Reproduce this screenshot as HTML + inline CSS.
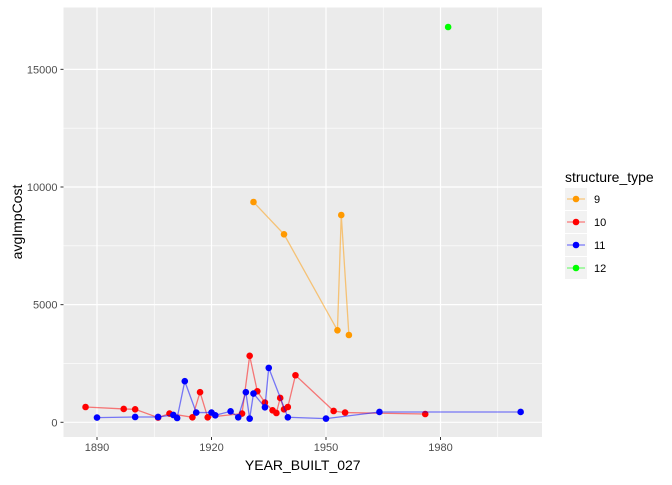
<!DOCTYPE html>
<html><head><meta charset="utf-8"><style>
body{margin:0;background:#fff;}
svg text{font-family:"Liberation Sans",Arial,sans-serif;}
</style></head><body>
<svg id="c" width="672" height="480" xmlns="http://www.w3.org/2000/svg"></svg>
<script>
const xTicks=[1890,1920,1950,1980];
const xMinor=[1875,1905,1935,1965,1995];
const yTicks=[0,5000,10000,15000];
const yMinor=[2500,7500,12500];
const s9x=[1931,1939,1953,1954,1956];
const s9y=[9362,7990,3910,8810,3710];
const s10x=[1887,1897,1900,1906,1909,1915,1917,1919,1928,1930,1932,1934,1936,1937,1938,1939,1940,1942,1952,1955,1976];
const s10y=[650,567,553,200,370,213,1278,213,370,2825,1320,840,511,396,1035,553,650,2000,481,413,353];
const s11x=[1890,1900,1906,1910,1911,1913,1916,1920,1921,1925,1927,1929,1930,1931,1934,1935,1940,1950,1964,2001];
const s11y=[200,226,226,311,183,1746,413,413,298,468,213,1278,157,1222,639,2313,213,157,439,439];
const s12x=[1982];
const s12y=[16800];
const seriesNames=["9","10","11","12"];
const colors=["#FF9900","#FF0000","#0000FF","#00FF00"];

const L=63.5,R=542,T=7.5,B=437;
const X=v=>97+(v-1890)*(326-97)/60;
const Y=v=>422.3-v*0.02353;
const svg=document.getElementById('c');
const NS="http://www.w3.org/2000/svg";
function mk(tag,at,parent){const e=document.createElementNS(NS,tag);for(const k in at)e.setAttribute(k,at[k]);(parent||svg).appendChild(e);return e;}

let bg=mk('rect',{x:L,y:T,width:R-L,height:B-T,fill:'#EBEBEB'});


yMinor.forEach(v=>{let l=mk('line',{x1:L,x2:R,y1:Y(v),y2:Y(v),stroke:'#fff','stroke-width':0.6});});
xMinor.forEach(v=>{if(X(v)>L&&X(v)<R){let l=mk('line',{x1:X(v),x2:X(v),y1:T,y2:B,stroke:'#fff','stroke-width':0.6});}});
yTicks.forEach(v=>{
 let l=mk('line',{x1:L,x2:R,y1:Y(v),y2:Y(v),stroke:'#fff','stroke-width':1.2});
 
 
 let tk=mk('line',{x1:L-3,x2:L,y1:Y(v),y2:Y(v),stroke:'#333','stroke-width':1});
 
 
 let t=mk('text',{x:L-6,y:Y(v)+4,'text-anchor':'end','font-size':11,fill:'#4d4d4d'});t.textContent=v;
 
 
});
xTicks.forEach(v=>{
 let l=mk('line',{x1:X(v),x2:X(v),y1:T,y2:B,stroke:'#fff','stroke-width':1.2});
 
 
 let tk=mk('line',{x1:X(v),x2:X(v),y1:B,y2:B+3,stroke:'#333','stroke-width':1});
 
 
 let t=mk('text',{x:X(v),y:B+14,'text-anchor':'middle','font-size':11,fill:'#4d4d4d'});t.textContent=v;
 
 
});
const SX=[s9x,s10x,s11x,s12x],SY=[s9y,s10y,s11y,s12y];
SX.forEach((xs,i)=>{
 const g=mk('g',{});
 
 
 if(xs.length>1){
  let p=mk('polyline',{points:xs.map((x,j)=>X(x)+','+Y(SY[i][j])).join(' '),fill:'none',stroke:colors[i],'stroke-opacity':0.5,'stroke-width':1.3},g);
  
  
 }
 xs.forEach((x,j)=>{
  let c=mk('circle',{cx:X(x),cy:Y(SY[i][j]),r:3.3,fill:colors[i]},g);
  
  
 });
});
let xt=mk('text',{x:(L+R)/2,y:470,'text-anchor':'middle','font-size':14,fill:'#000'});xt.textContent='YEAR_BUILT_027';


let yt=mk('text',{x:0,y:0,'text-anchor':'middle','font-size':14,fill:'#000',transform:'translate(22,222) rotate(-90)'});yt.textContent='avgImpCost';


let lt=mk('text',{x:565,y:182,'font-size':14,fill:'#000'});lt.textContent='structure_type';


seriesNames.forEach((n,i)=>{
 const cy=199+i*23;
 const g=mk('g',{});
 
 
 mk('rect',{x:565,y:cy-11,width:22,height:22,fill:'#F2F2F2'},g);
 mk('line',{x1:567,x2:585,y1:cy,y2:cy,stroke:colors[i],'stroke-opacity':0.5,'stroke-width':1.3},g);
 mk('circle',{cx:576,cy:cy,r:3.3,fill:colors[i]},g);
 let t=mk('text',{x:594,y:cy+4,'font-size':11,fill:'#000'},g);t.textContent=n;
});
</script>
</body></html>
